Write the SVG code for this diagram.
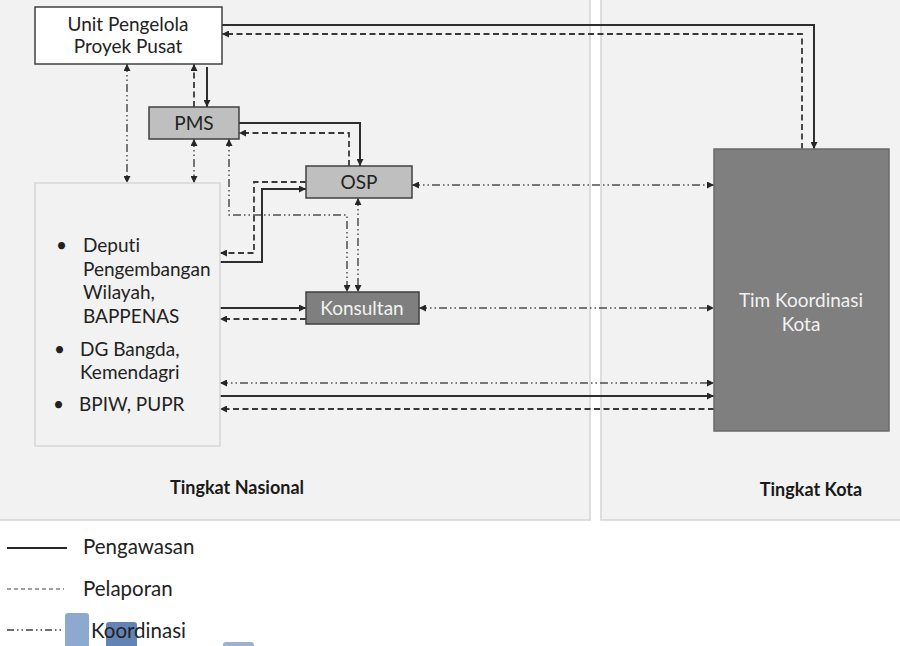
<svg xmlns="http://www.w3.org/2000/svg" width="900" height="646" viewBox="0 0 900 646">
<defs>
<marker id="arr" viewBox="0 0 10 10" refX="10" refY="5" markerWidth="7" markerHeight="7" markerUnits="userSpaceOnUse" orient="auto-start-reverse">
<path d="M0,0 L10,5 L0,10 z" fill="#262626"/>
</marker>
<style>
text{font-family:Lato,"Liberation Sans",sans-serif;fill:#222;font-variant-ligatures:none}
.c{text-anchor:middle}
.lbl{font-size:19px}
.w{fill:#f2f2f2}
.b{font-weight:bold;font-size:18px;fill:#1a1a1a}
.panel{fill:#f2f2f2;stroke:#d4d4d4;stroke-width:1.5}
.box{stroke:#404040;stroke-width:1.5}
.sol{fill:none;stroke:#2e2e2e;stroke-width:2}
.dsh{fill:none;stroke:#383838;stroke-width:1.8;stroke-dasharray:6 3.5}
.crd{fill:none;stroke:#4d4d4d;stroke-width:1.5;stroke-dasharray:8 3 1.5 3 1.5 3}
.e{marker-end:url(#arr)}
.s{marker-start:url(#arr)}
.leg{font-size:20.5px}
</style>
</defs>
<rect width="900" height="646" fill="#ffffff"/>
<g id="panel-nasional">
<rect class="panel" x="-2" y="-2" width="592" height="522"/>
<text class="b c" x="237" y="494">Tingkat Nasional</text>
</g>
<g id="panel-kota">
<rect class="panel" x="601" y="-2" width="310" height="522"/>
<text class="b c" x="811" y="496">Tingkat Kota</text>
</g>
<g id="connectors">
<path class="sol e" d="M222,25 H814 V149"/>
<path class="dsh e" d="M802,149 V34 H222"/>
<path class="crd e s" d="M127,64 V183"/>
<path class="dsh e" d="M194,107 V64"/>
<path class="sol e" d="M207,67 V107"/>
<path class="crd e s" d="M194,139 V183"/>
<path class="sol e" d="M239,123 H360 V166"/>
<path class="dsh e" d="M349,166 V133 H239"/>
<path class="dsh e" d="M306,182 H254 V253 H220"/>
<path class="sol e" d="M220,262 H262 V189 H306"/>
<path class="crd e s" d="M229,139 V215 H347 V292"/>
<path class="crd e s" d="M358,198 V292"/>
<path class="sol e" d="M220,308 H306"/>
<path class="dsh e" d="M306,319 H220"/>
<path class="crd e s" d="M412,185 H714"/>
<path class="crd e s" d="M419,308 H714"/>
<path class="crd e s" d="M220,383 H714"/>
<path class="sol e" d="M220,396 H714"/>
<path class="dsh e" d="M714,409 H220"/>
</g>
<g id="unit-pengelola">
<rect class="box" x="35" y="7" width="187" height="57" fill="#ffffff"/>
<text class="lbl c" x="128" y="31">Unit Pengelola</text>
<text class="lbl c" x="128" y="53">Proyek Pusat</text>
</g>
<g id="pms">
<rect class="box" x="149" y="107" width="90" height="32" fill="#bfbfbf"/>
<text class="lbl c" x="194" y="130">PMS</text>
</g>
<g id="osp">
<rect class="box" x="306" y="166" width="106" height="32" fill="#bfbfbf"/>
<text class="lbl c" x="359" y="189">OSP</text>
</g>
<g id="konsultan">
<rect class="box" x="306" y="292" width="113" height="32" fill="#7f7f7f"/>
<text class="lbl c w" x="362" y="315">Konsultan</text>
</g>
<g id="nasional-agencies">
<rect x="35" y="183" width="185" height="263" fill="#f2f2f2" stroke="#d6d6d6" stroke-width="1.5"/>
<text class="lbl" x="56" y="252">•</text>
<text class="lbl" x="83" y="252">Deputi</text>
<text class="lbl" x="83" y="276">Pengembangan</text>
<text class="lbl" x="83" y="299">Wilayah,</text>
<text class="lbl" x="83" y="323">BAPPENAS</text>
<text class="lbl" x="54" y="356">•</text>
<text class="lbl" x="80" y="356">DG Bangda,</text>
<text class="lbl" x="80" y="379">Kemendagri</text>
<text class="lbl" x="53" y="411">•</text>
<text class="lbl" x="79" y="411">BPIW, PUPR</text>
</g>
<g id="tim-koordinasi">
<rect x="714" y="149" width="175" height="282" fill="#7f7f7f" stroke="#6a6a6a" stroke-width="1.5"/>
<text class="lbl c w" x="801" y="307">Tim Koordinasi</text>
<text class="lbl c w" x="801" y="331">Kota</text>
</g>
<g id="bars">
<rect x="65" y="613" width="24" height="40" rx="3" fill="#8ea9cf"/>
<rect x="106" y="622" width="31" height="30" rx="3" fill="#6383b5"/>
<rect x="223" y="642" width="31" height="10" rx="3" fill="#9cb2cf"/>
</g>
<g id="legend">
<line x1="7" y1="548" x2="67" y2="548" stroke="#262626" stroke-width="2"/>
<text class="leg" x="83" y="554">Pengawasan</text>
<line x1="7" y1="589" x2="64" y2="589" stroke="#404040" stroke-width="1.2" stroke-dasharray="4 3"/>
<text class="leg" x="83" y="596">Pelaporan</text>
<line x1="7" y1="630" x2="64" y2="630" stroke="#404040" stroke-width="1.6" stroke-dasharray="7 3 1.5 3 1.5 3"/>
<text class="leg" x="91" y="638">Koordinasi</text>
</g>
</svg>
